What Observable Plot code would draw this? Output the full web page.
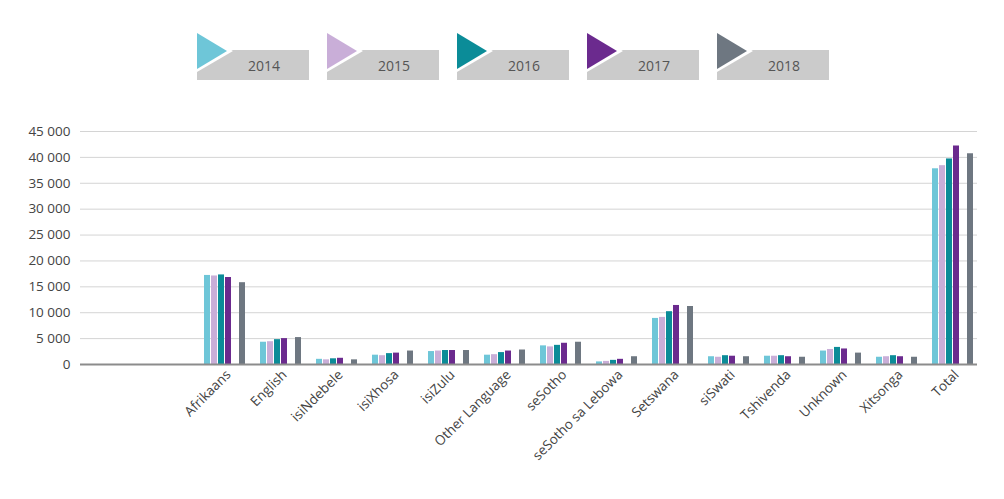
<!DOCTYPE html>
<html><head><meta charset="utf-8">
<script src="https://cdn.jsdelivr.net/npm/d3@7"></script>
<script src="https://cdn.jsdelivr.net/npm/@observablehq/plot@0.6"></script>
<style>
body{margin:0;background:#fff;font-family:"Open Sans",sans-serif;}
#legend{position:relative;height:100px;width:1004px;}
.item{position:absolute;top:33px;width:112px;height:48px;}
.box{position:absolute;left:0;top:17px;width:112px;height:30px;background:#cbcbcb;}
.lab{position:absolute;left:22px;right:0;top:17px;height:30px;line-height:32px;text-align:center;font-size:14px;color:#555;}
.tri{position:absolute;left:0;top:0;width:0;height:0;border-top:18px solid transparent;border-bottom:18px solid transparent;}
.triw{position:absolute;left:0;top:-3px;width:0;height:0;border-top:21px solid transparent;border-bottom:21px solid transparent;border-left:36px solid #fff;}
</style>
</head><body>
<div id="legend"></div>
<div id="chart"></div>
<script>
const categories = ["Afrikaans","English","isiNdebele","isiXhosa","isiZulu","Other Language","seSotho","seSotho sa Lebowa","Setswana","siSwati","Tshivenda","Unknown","Xitsonga","Total"];
const years = ["2014","2015","2016","2017","2018"];
const colors = ["#6ec6d8","#c9aed8","#0b8c98","#6b2a8e","#6e7781"];
const v2014 = [17200, 4300, 1000, 1800, 2500, 1800, 3600, 500, 8900, 1500, 1600, 2600, 1400, 37800];
const v2015 = [17100, 4400, 900, 1700, 2600, 1900, 3400, 600, 9100, 1400, 1600, 2900, 1500, 38400];
const v2016 = [17300, 4800, 1100, 2100, 2700, 2300, 3700, 800, 10200, 1700, 1700, 3300, 1700, 39700];
const v2017 = [16800, 5000, 1200, 2200, 2700, 2600, 4100, 1000, 11400, 1600, 1500, 3000, 1500, 42200];
const v2018 = [15800, 5200, 900, 2600, 2700, 2800, 4300, 1500, 11200, 1500, 1400, 2200, 1400, 40700];
const yTicks = [0,5000,10000,15000,20000,25000,30000,35000,40000,45000];

const series = [v2014, v2015, v2016, v2017, v2018];
const rows = [];
categories.forEach((c, i) => years.forEach((y, j) => rows.push({cat: c, year: y, value: series[j][i], key: c + "|" + y})));

// band slots: leading empty space, then per category 4 bars, gap, 2018 bar, spacer
const xdom = [];
for (let k = 0; k < 17; k++) xdom.push("pad" + k);
categories.forEach((c, i) => {
  xdom.push(c+"|2014", c+"|2015", c+"|2016", c+"|2017", c+"|gap", c+"|2018");
  if (i < categories.length - 1) xdom.push(c+"|s1", c+"|s2");
});

// legend
const legend = document.getElementById("legend");
years.forEach((y, j) => {
  const it = document.createElement("div");
  it.className = "item";
  it.style.left = (197 + j * 130) + "px";
  it.innerHTML = `<div class="box"></div><div class="lab">${y}</div><div class="triw"></div><div class="tri" style="border-left:30px solid ${colors[j]}"></div>`;
  legend.appendChild(it);
});

const fmt = d => d3.format(",")(d).replace(/,/g, " ");
const chart = Plot.plot({
  width: 1004, height: 399,
  marginLeft: 80, marginRight: 27, marginTop: 31, marginBottom: 135,
  style: {fontFamily: "'Open Sans', sans-serif", fontSize: "13px", color: "#444", background: "#fff"},
  x: {domain: xdom, paddingInner: 0.18, paddingOuter: 0, axis: null},
  y: {domain: [0, 45000], axis: null},
  color: {domain: years, range: colors},
  marks: [
    Plot.gridY(yTicks, {stroke: "#d4d4d4", strokeOpacity: 1}),
    Plot.barY(rows, {x: "key", y: "value", fill: "year"}),
    Plot.ruleY([0], {stroke: "#8c8c8c", strokeWidth: 2}),
    Plot.axisY(yTicks, {tickSize: 0, tickPadding: 10, tickFormat: fmt, fontSize: 13.5, label: null}),
    Plot.axisX(categories.map(c => c + "|2017"), {tickSize: 0, tickPadding: 8, tickRotate: -45, tickFormat: d => d.split("|")[0], fontSize: 13.5, label: null})
  ]
});
document.getElementById("chart").appendChild(chart);
</script>
</body></html>
